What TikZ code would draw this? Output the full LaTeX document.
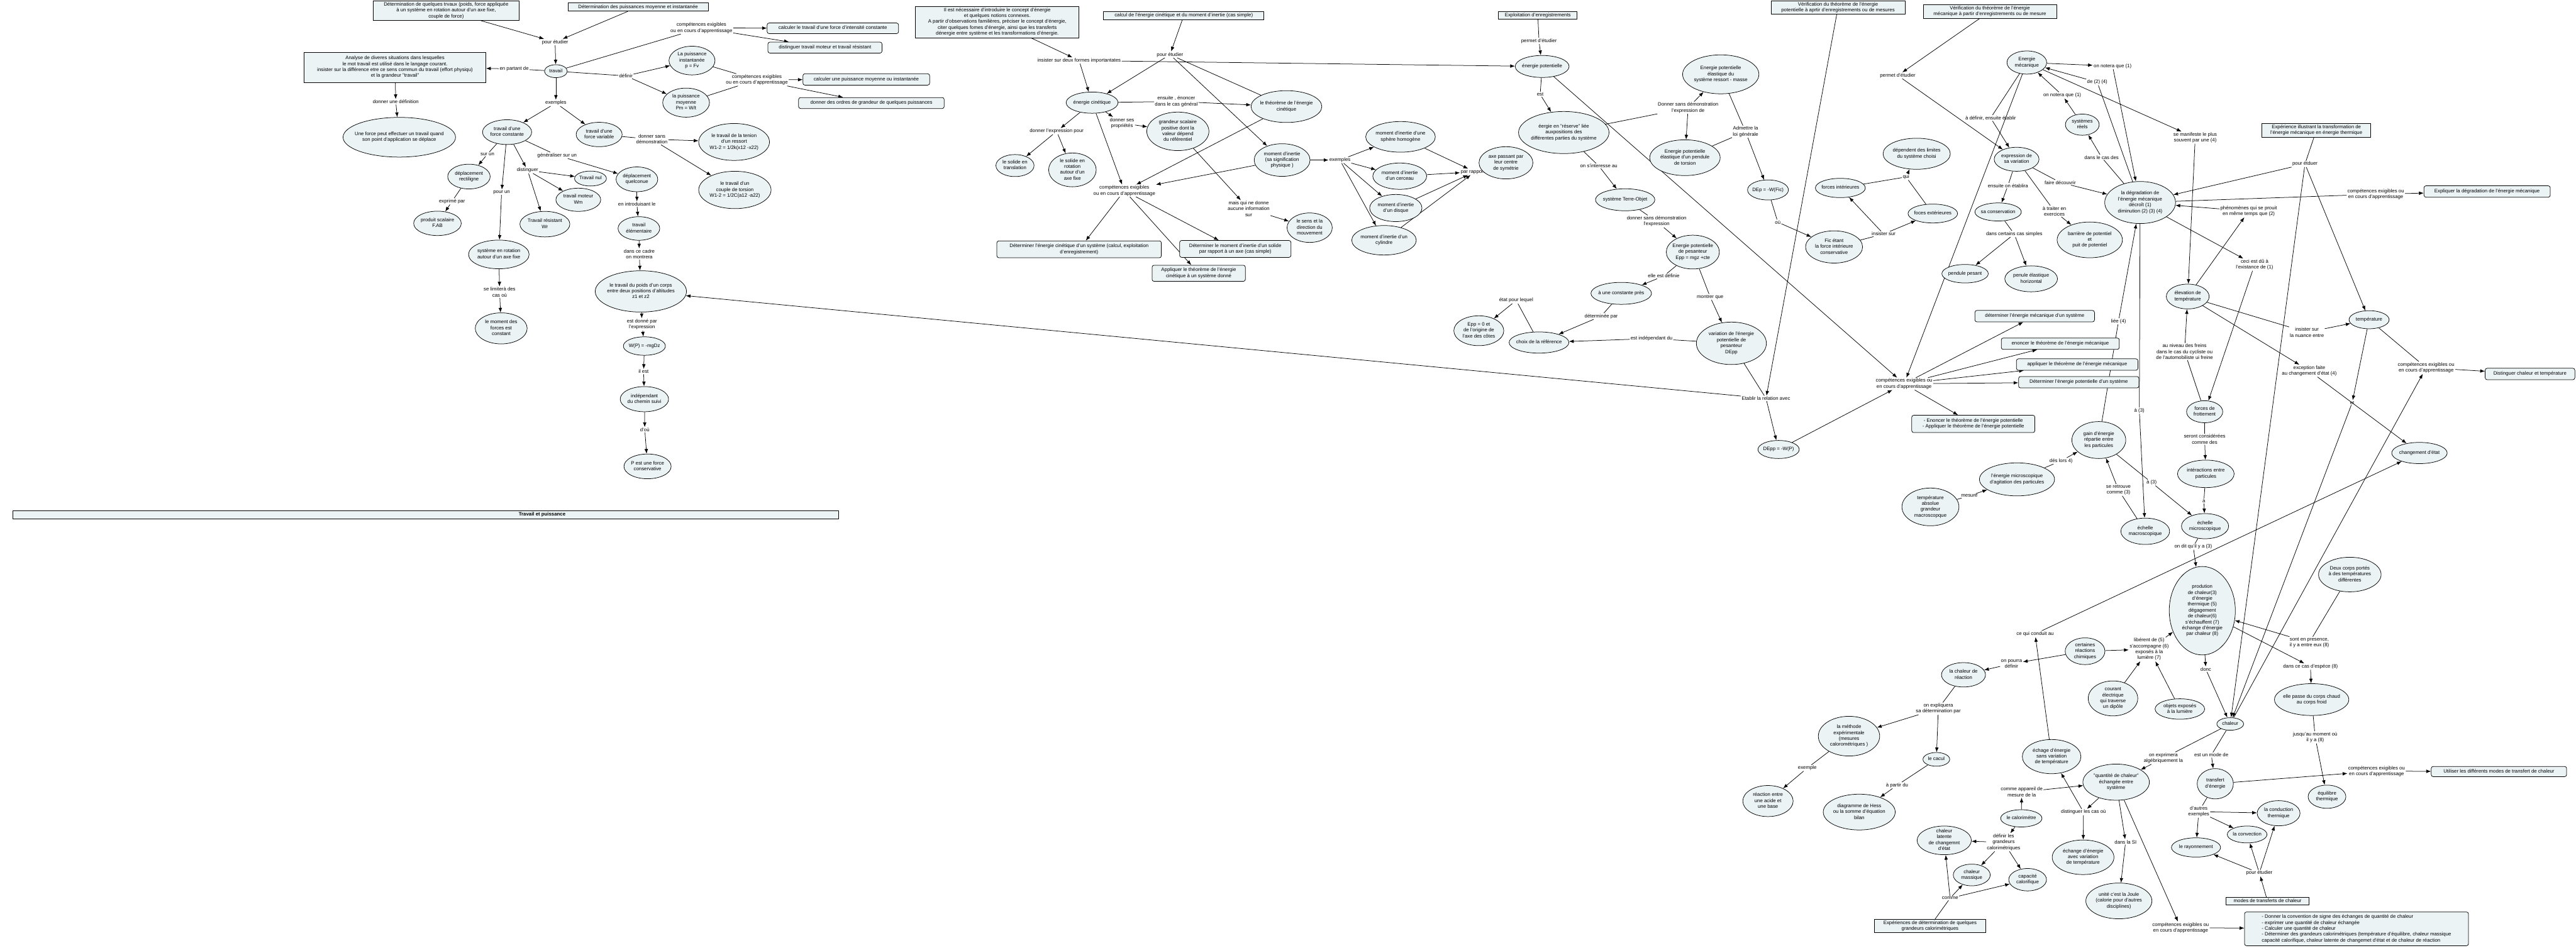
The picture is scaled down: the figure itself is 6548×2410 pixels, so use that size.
\documentclass[tikz,border=0pt]{standalone}
\usepackage{fontspec}
\setmainfont{Liberation Sans}
\usetikzlibrary{shapes.geometric,arrows.meta,backgrounds}
\definecolor{nf}{RGB}{235,243,245}
\newcommand{\ct}[1]{\smash{\makebox[0pt]{\raisebox{-3pt}{\begin{tabular}{@{}c@{}}#1\end{tabular}}}}}
\newcommand{\ctl}[1]{\smash{\makebox[0pt]{\raisebox{-3pt}{\begin{tabular}{@{}l@{}}#1\end{tabular}}}}}
\newcommand{\mkE}[6]{\node[ell,minimum width=#4,minimum height=#5] (#1) at (#2,#3) {\ct{#6}};}
\newcommand{\mkS}[6]{\node[sbox,minimum width=#4,minimum height=#5] (#1) at (#2,#3) {\ct{#6}};}
\newcommand{\mkR}[6]{\node[rbox,minimum width=#4,minimum height=#5] (#1) at (#2,#3) {\ct{#6}};}
\newcommand{\mkL}[4]{\node[lab] (#1) at (#2,#3) {#4};}
\newcommand{\myA}[2]{\draw[arw] (#1) -- (#2);}
\newcommand{\myL}[2]{\draw[pln] (#1) -- (#2);}
\tikzset{
 every node/.style={font=\fontsize{12.5}{15}\selectfont},
 ell/.style={ellipse,draw,fill=nf,line width=1.2pt,inner sep=0pt},
 sbox/.style={rectangle,draw,fill=nf,line width=1.2pt,inner sep=0pt},
 rbox/.style={rectangle,rounded corners=5pt,draw,fill=nf,line width=1.2pt,inner sep=0pt},
 lab/.style={align=center,inner sep=2pt},
 arw/.style={line width=1.2pt,-{Latex[length=12pt,width=9pt]}},
 pln/.style={line width=1.2pt}
}
\begin{document}
\begin{tikzpicture}[x=1pt,y=-1pt]
\useasboundingbox (0,0) rectangle (6548,2410);
% ---------------- Travail et puissance
\mkS{bDetTrav}{1134}{27}{370}{50}{Détermination de quelques trvaux (poids, force appliquée\\à un système en rotation autour d'un axe fixe,\\couple de force)}
\mkS{bDetPuis}{1622}{18}{356}{21}{Détermination des puissances moyenne et instantanée}
\mkL{lPE1}{1411}{107}{pour étudier}
\mkE{eTravail}{1413}{181}{58}{33}{travail}
\mkL{lComp1}{1783}{71}{compétences exigibles\\ou en cours d'apprentissage}
\mkR{rCalcTrav}{2117}{72}{334}{27}{calculer le travail d'une force d'intensité constante}
\mkR{rDistTrav}{2097}{121}{290}{28}{distinguer travail moteur et travail résistant}
\mkL{lPartant}{1307}{175}{en partant de}
\mkS{bAnalyse}{1004}{171}{462}{77}{Analyse de diveres situations dans lesquelles\\le mot travail est utilisé dans le langage courant.\\insister sur la différence etre ce sens commun du travail (effort physiqu)\\et la grandeur "travail"}
\mkL{lDonDef}{1006}{259}{donner une définition}
\mkE{eForce}{1015}{349}{286}{101}{Une force peut effectuer un travail quand\\son point d'application se déplace}
\mkL{lDefinir}{1591}{193}{définir}
\mkE{ePInst}{1759}{154}{117}{73}{La puissance\\instantanée\\p = Fv}
\mkE{ePMoy}{1744}{261}{119}{74}{la puissance\\moyenne\\Pm = W/t}
\mkL{lComp2}{1924}{203}{compétences exigibles\\ou en cours d'apprentissage}
\mkR{rCalcP}{2202}{202}{322}{29}{calculer une puissance moyenne ou instantanée}
\mkR{rOrdres}{2215}{262}{370}{28}{donner des ordres de grandeur de quelques puissances}
\mkL{lEx1}{1413}{262}{exemples}
\mkE{eFConst}{1289}{336}{125}{63}{travail d'une\\force constante}
\mkE{eFVar}{1523}{342}{117}{62}{travail d'une\\force variable}
\mkL{lDonSans}{1657}{354}{donner sans\\démonstration}
\mkE{eRessort}{1866}{361}{180}{94}{le travail de la tenion\\d'un ressort\\W1-2 = 1/2k(x12 -x22)}
\mkE{eCouple}{1868}{483}{184}{95}{le travail d'un\\couple de torsion\\W1-2 = 1/2C(a12 -a22)}
\mkL{lSurUn}{1239}{392}{sur un}
\mkE{eRect}{1192}{449}{108}{63}{déplacement\\rectiligne}
\mkL{lExprime}{1149}{512}{exprimé par}
\mkE{eProduit}{1112}{568}{121}{62}{produit scalaire\\F.AB}
\mkL{lPourUn}{1275}{489}{pour un}
\mkE{eRotation}{1268}{647}{154}{73}{système en rotation\\autour d'un axe fixe}
\mkL{lLimite}{1270}{743}{se limiterà des\\cas où}
\mkE{eMoment}{1274}{835}{132}{79}{le moment des\\forces est\\constant}
\mkL{lDist}{1341}{433}{distinguer}
\mkE{eNul}{1501}{454}{81}{38}{Travail nul}
\mkE{eMoteur}{1470}{508}{114}{59}{travail moteur\\Wm}
\mkE{eResist}{1385}{570}{127}{65}{Travail résistant\\Wr}
\mkL{lGen}{1416}{395}{généraliser sur un}
\mkE{eQuel}{1619}{456}{106}{63}{déplacement\\quelconue}
\mkL{lIntro}{1619}{519}{en introduisant le}
\mkE{eElem}{1624}{581}{106}{60}{travail\\élémentaire}
\mkL{lCadre}{1625}{646}{dans ce cadre\\on montrera}
\mkE{ePoids}{1629}{741}{232}{105}{le travail du poids d'un corps\\entre deux positions d'altitudes\\z1 et z2}
\mkL{lDonne}{1632}{825}{est donné par\\l'expression}
\mkE{eWP}{1638}{880}{107}{47}{W(P) = -mgDz}
\mkL{lIlEst}{1636}{945}{il est}
\mkE{eIndep}{1638}{1015}{123}{64}{indépendant\\du chemin suivi}
\mkL{lDou}{1639}{1093}{d'où}
\mkE{eConserv}{1646}{1186}{120}{63}{P est une force\\conservative}
\node[sbox,minimum width=2099,minimum height=21] (bar) at (1082.5,1308.5) {};
\node[lab] (barT) at (1378,1308) {\textbf{Travail et puissance}};
% ---------------- energie cinetique
\mkS{bIntro}{2535}{56}{416}{80}{Il est nécessaire d'introduire le concept d'énergie\\et quelques notions connexes.\\A partir d'observations familières, préciser  le concept d'énergie,\\citer quelques fomes d'énergie, ainsi que les transferts\\dénergie entre système et les transformations d'énergie.}
\mkL{lInsister}{2743}{154}{insister sur deux formes importantates}
\mkS{bCalcEc}{3009}{40}{408}{21}{calcul de l'énergie cinétique et du moment d'inertie (cas simple)}
\mkL{lPE2}{2974}{139}{pour étudier}
\mkE{eEc}{2776}{261}{132}{54}{énergie cinétique}
\mkL{lEnsuite}{2990}{258}{ensuite , énoncer\\dans le cas général}
\mkE{eTheo}{3270}{271}{180}{81}{le théorème de l'énergie\\cinétique}
\mkL{lProp}{2852}{313}{donner ses\\propriétés}
\mkE{eGrand}{2994}{334}{158}{98}{grandeur scalaire\\positive dont la\\valeur dépend\\du référentiel}
\mkL{lMais}{3174}{531}{mais qui ne donne\\aucune information\\sur}
\mkE{eSens}{3329}{579}{115}{75}{le sens et la\\direction du\\mouvement}
\mkL{lExpr}{2686}{334}{donner l'expression pour}
\mkE{eTransl}{2580}{421}{97}{56}{le solide en\\translation}
\mkE{eRotSol}{2726}{432}{121}{86}{le solide en\\rotation\\autour d'un\\axe fixe}
\mkL{lComp3}{2858}{485}{compétences exigibles\\ou en cours d'apprentissage}
\mkR{rDetEc}{2743}{634}{418}{43}{Déterminer l'énergie cinétique d'un système (calcul, exploitation\\d'enregistrement)}
\mkR{rApplTec}{3047}{695}{237}{41}{Appliquer le théorème de l'énergie\\cinétique à un système donné}
\mkR{rDetMom}{3140}{633}{283}{43}{Déterminer le moment d'inertie d'un solide\\par rapport à un axe (cas simple)}
\mkE{eMomI}{3259}{407}{142}{83}{moment d'inertie\\(sa signification\\physique )}
\mkL{lEx2}{3406}{407}{exemples}
\mkE{eSphere}{3560}{348}{177}{78}{moment d'inertie d'une\\sphère homogène}
\mkE{eCerceau}{3558}{448}{137}{67}{moment d'inertie\\d'un cerceau}
\mkE{eDisque}{3548}{529}{133}{69}{moment d'inertie\\d'un disque}
\mkE{eCyl}{3518}{611}{164}{75}{moment d'inertie d'un\\cylindre}
\mkL{lRapport}{3749}{437}{par rapport à}
\mkE{eAxe}{3828}{414}{137}{82}{axe passant par\\leur centre\\de symétrie}
% ---------------- energie potentielle
\mkS{bExploit}{3909}{39}{200}{20}{Exploitation d'enregistrements}
\mkL{lPermet1}{3912}{104}{permet d'étudier}
\mkE{eEp}{3920}{169}{137}{56}{énergie potentielle}
\mkL{lEst}{3915}{240}{est}
\mkE{eReserve}{3975}{337}{230}{107}{éergie en "réserve" liée\\auxpositions des\\différentes parties du système}
\mkL{lDonSans2}{4291}{274}{Donner sans démonstration\\l'expression de}
\mkE{eRessortM}{4374}{189}{194}{99}{Energie potentielle\\élastique du\\système ressort - masse}
\mkE{eTorsion}{4283}{401}{179}{91}{Energie potentielle\\élastique d'un pendule\\de torsion}
\mkL{lAdmettre}{4437}{335}{Admettre la\\loi générale}
\mkE{eDEp}{4494}{483}{104}{51}{DEp = -W(Fic)}
\mkL{lOu}{4519}{565}{où}
\mkE{eFic}{4662}{628}{145}{82}{Fic étant\\la force intérieure\\conservative}
\mkL{lInsSur}{4788}{595}{insister sur}
\mkE{eFint}{4678}{478}{127}{49}{forces intérieures}
\mkE{eFext}{4913}{543}{126}{48}{foces extérieures}
\mkL{lQui}{4845}{450}{qui}
\mkE{eDepend}{4872}{391}{171}{79}{dépendent des limites\\du système choisi}
\mkS{bVerEp}{4672}{19}{340}{35}{Vérification du théorème de l'énergie\\potentielle à aprtir d'enregistrements ou de mesures}
\mkE{eTerre}{4131}{508}{151}{56}{système Terre-Objet}
\mkL{lSint}{4064}{422}{on s'interesse au}
\mkL{lDonSans3}{4211}{563}{donner sans démonstration\\l'expression}
\mkE{eEpp}{4303}{641}{135}{86}{Energie potentielle\\de pesanteur\\Epp = mgz +cte}
\mkL{lDefinie}{4229}{702}{elle est définie}
\mkE{eCste}{4121}{746}{154}{56}{à une constante près}
\mkL{lDeterminee}{4070}{804}{déterminée par}
\mkE{eChoix}{3912}{871}{152}{54}{choix de la référence}
\mkL{lEtat}{3854}{764}{état pour lequel}
\mkE{eEpp0}{3759}{841}{127}{76}{Epp = 0 et\\de l'origine de\\l'axe des côtes}
\mkL{lMontrer}{4347}{755}{montrer que}
\mkE{eVar}{4401}{873}{178}{108}{variation de l'énergie\\potentielle de\\pesanteur\\DEpp}
\mkL{lIndep}{4198}{861}{est indépendant du}
\mkL{lEtablir}{4489}{1013}{Etablir la relation avec}
\mkE{eDEpp}{4521}{1143}{105}{46}{DEpp = -W(P)}
\mkL{lComp4}{4840}{976}{compétences exigibles ou\\en cours d'apprentissage}
\mkR{rDetEm}{5172}{804}{304}{29}{déterminer l'énergie mécanique d'un système}
\mkR{rEnEm}{5237}{874}{300}{29}{enoncer le théorème de l'énergie mécanique}
\mkR{rApEm}{5280}{927}{309}{29}{appliquer le théorème de l'énergie mécanique}
\mkR{rDetEp}{5284}{972}{306}{29}{Déterminer l'énergie potentielle d'un système}
\mkR{rEnEp}{5016}{1078}{313}{44}{- Enoncer le théorème de l'énergie potentielle\\- Appliquer le théorème de l'énergie potentielle}
% ---------------- energie mecanique
\mkS{bVerEm}{5058}{29}{339}{35}{Vérification du théorème de l'énergie\\mécanique à partir d'enregistrements ou de mesure}
\mkL{lPermet2}{4824}{192}{permet d'étudier}
\mkE{eEm}{5152}{159}{101}{59}{Energie\\mécanique}
\mkL{lNot1}{5370}{168}{on notera que (1)}
\mkL{lDe24}{5331}{209}{de (2) (4)}
\mkL{lNot2}{5242}{242}{on notera que (1)}
\mkE{eSysReel}{5293}{317}{86}{54}{systèmes\\réels}
\mkL{lCasDes}{5342}{400}{dans le cas des}
\mkL{lManif}{5580}{350}{se manifeste le plus\\souvent par une (4)}
\mkL{lADef}{5060}{300}{à définir, ensuite établir}
\mkE{eExprVar}{5126}{405}{114}{61}{expression de\\sa variation}
\mkL{lFaire}{5237}{464}{faire découvrir}
\mkL{lEnsEt}{5104}{472}{ensuite on établira}
\mkE{eSaCons}{5079}{539}{118}{46}{sa conservation}
\mkL{lCertains}{5120}{595}{dans certains cas simples}
\mkE{ePendPes}{4995}{696}{118}{47}{pendule pesant}
\mkE{ePendEl}{5163}{709}{134}{66}{penule élastique\\horizontal}
\mkL{lTraiter}{5222}{537}{à traiter en\\exercices}
\mkE{eBarriere}{5312}{610}{166}{91}{barrière de potentiel\\et\\puit de potentiel}
\mkE{eDegr}{5440}{515}{180}{107}{la dégradation de\\l'énergie mécanique\\décroît (1)\\diminution (2) (3) (4)}
\mkS{bExpTherm}{5888}{331}{277}{35}{Expérience illustrant la transformation de\\l'énergie mécanique en énergie thermique}
\mkL{lPourEt}{5859}{417}{pour étduer}
\mkL{lComp5}{6039}{494}{compétences exigibles ou\\en cours d'apprentissage}
\mkR{rExpliquer}{6322}{487}{321}{29}{Expliquer la dégradation de l'énergie mécanique}
\mkL{lPhen}{5716}{537}{phénomènes qui se prouit\\en même temps que (2)}
\mkL{lCeci}{5731}{673}{ceci est dû  à\\l'existance de (1)}
\mkE{eElev}{5561}{754}{109}{63}{élevation de\\température}
\mkE{eTemp}{6022}{813}{102}{46}{température}
\mkL{lNuance}{5864}{845}{insister sur\\la nuance  entre}
\mkL{lExcep}{5870}{943}{exception faite\\au changement d'état (4)}
\mkE{eChgt}{6150}{1152}{141}{54}{changement d'état}
\mkL{lComp6}{6167}{935}{compétences exigibles ou\\en cours d'apprentissage}
\mkR{rDistCT}{6431}{951}{228}{29}{Distinguer chaleur et température}
\mkL{lEt}{5979}{1024}{et}
\mkE{eFrott}{5604}{1047}{92}{56}{forces de\\frottement}
\mkL{lFreins}{5553}{894}{au niveau des freins\\dans le cas du cycliste ou\\de l'automobiliste ui freine}
\mkL{lConsid}{5604}{1117}{seront considérées\\comme des}
\mkE{eInter}{5607}{1205}{144}{70}{intéractions entre\\particules}
\mkL{lA}{5602}{1274}{à}
\mkE{eMicro}{5605}{1338}{120}{64}{échelle\\microscopique}
\mkL{lDit}{5575}{1390}{on dit qu'il y a (3)}
\mkE{eDeux}{5973}{1461}{159}{88}{Deux corps portés\\à des températures\\différentes}
\mkE{eProd}{5598}{1553}{168}{225}{prodution\\de chaleur(3)\\d'énergie\\thermique (5)\\dégagement\\de chaleur(6)\\s'échauffent (7)\\échange d'énergie\\par chaleur (8)}
\mkL{lLiberent}{5463}{1651}{libérent de (5)\\s'accompagne (6)\\exposés à la\\lumière (7)}
\mkE{eCourant}{5371}{1776}{126}{89}{courant\\électrique\\qui traverse\\un dipôle}
\mkE{eObjets}{5541}{1803}{126}{52}{objets exposés\\à la lumière}
\mkL{lDonc}{5607}{1702}{donc}
\mkE{eChaleur}{5669}{1841}{68}{32}{chaleur}
\mkL{lPresence}{5870}{1634}{sont en presence,\\il y a entre eux (8)}
\mkL{lEspece}{5873}{1695}{dans ce cas d'espéce (8)}
\mkE{ePasse}{5876}{1779}{189}{81}{elle passe du corps chaud\\au corps froid}
\mkL{lJusqu}{5885}{1875}{jusqu'au moment où\\il y a (8)}
\mkE{eEquil}{5915}{2026}{96}{59}{équilibre\\thermique}
\mkL{lExprimera}{5499}{1928}{on exprimera\\algébriquement  la}
\mkL{lMode}{5621}{1920}{est un mode de}
\mkE{eTransf}{5631}{1993}{92}{77}{transfert\\d'énergie}
\mkL{lComp7}{6041}{1961}{compétences exigibles ou\\en cours d'apprentissage}
\mkR{rUtiliser}{6352}{1962}{344}{26}{Utiliser les différents modes de transfert de chaleur}
\mkL{lAutres}{5589}{2064}{d'autres\\exemples}
\mkE{eConduct}{5792}{2068}{109}{64}{la conduction\\thermique}
\mkE{eConvec}{5712}{2122}{101}{43}{la convection}
\mkE{eRayon}{5582}{2155}{125}{49}{le rayonnement}
\mkL{lPE3}{5743}{2220}{pour étudier}
\mkS{bModes}{5764}{2292}{211}{19}{modes de transferts de chaleur}
\mkE{eQuant}{5379}{1989}{169}{92}{"quantité de chaleur"\\échangée entre\\système}
\mkL{lSI}{5403}{2141}{dans la SI}
\mkE{eUnite}{5386}{2291}{168}{91}{unité c'est la Joule\\(calorie pour d'autres\\disciplines)}
\mkL{lComp8}{5543}{2359}{compétences exigibles  ou\\en cours d'apprentissage}
\node[rbox,minimum width=569,minimum height=86] (rDonner) at (5990,2362) {\ctl{- Donner la convention de signe des échanges de quantité de chaleur\\- exprimer une quantité de chaleur échangée\\- Calculer une quantité de chaleur\\- Déterminer des grandeurs calorimétriques (température d'équilibre, chaleur massique\\capacité calorifique, chaleur latente de changemet d'état et de chaleur de réaction}};
\mkE{eGain}{5335}{1119}{137}{94}{gain d'énergie\\répartie entre\\les particules}
\mkL{lLiee}{5385}{817}{liée (4)}
\mkL{lA3a}{5438}{1044}{à (3)}
\mkL{lDesLors}{5239}{1172}{dés lors 4)}
\mkE{eAgit}{5127}{1219}{191}{84}{l'énergie microscopique\\d'agitation des particules}
\mkL{lMesure}{5006}{1261}{mesure}
\mkE{eTAbs}{4907}{1289}{145}{96}{température\\absolue\\grandeur\\macroscopque}
\mkL{lRetrouve}{5385}{1246}{se retrouve\\comme (3)}
\mkE{eMacro}{5453}{1351}{124}{67}{échelle\\macroscopique}
\mkL{lA3b}{5469}{1227}{à (3)}
% ---------------- calorimetrie
\mkL{lConduit}{5173}{1612}{ce qui conduit au}
\mkE{eCertaines}{5300}{1656}{101}{68}{certaines\\réactions\\chimiques}
\mkL{lPourra}{5113}{1688}{on pourra\\définir}
\mkE{eChalReac}{4991}{1716}{112}{62}{la chaleur de\\réaction}
\mkL{lExpliquera}{4927}{1802}{on expliquera\\sa détermination par}
\mkE{eMethode}{4700}{1872}{156}{101}{la méthode\\expérimentale\\(mesures\\calorométriques )}
\mkL{lExemple}{4594}{1953}{exemple}
\mkE{eAcide}{4494}{2037}{128}{79}{réaction entre\\une acide et\\une base}
\mkE{eCacul}{4922}{1931}{68}{35}{le cacul}
\mkL{lAPartir}{4822}{1997}{à partir du}
\mkE{eHess}{4726}{2065}{183}{91}{diagramme de Hess\\ou la somme d'équation\\bilan}
\mkE{eSansVar}{5215}{1924}{149}{87}{échage d'énergie\\sans variation\\de température}
\mkL{lAppareil}{5139}{2014}{comme appareil de\\mesure de la}
\mkE{eCalo}{5138}{2081}{105}{44}{le calorimétre}
\mkL{lDistCas}{5296}{2065}{distinguer les cas où}
\mkE{eAvecVar}{5295}{2180}{157}{88}{échange d'énergie\\avec variation\\de température}
\mkL{lDefGr}{5093}{2142}{définir les\\grandeurs\\calorimétriques}
\mkE{eLatente}{4942}{2137}{138}{73}{chaleur\\latente\\de changemnt\\d'état}
\mkE{eMassique}{5012}{2225}{94}{55}{chaleur\\massique}
\mkE{eCapa}{5154}{2237}{96}{57}{capacité\\calorifique}
\mkL{lComme}{4957}{2284}{comme}
\mkS{bExpCalo}{4906}{2355}{282}{34}{Expériences de détermination de quelques\\grandeurs calorimétriques}
% ================= connectors
\begin{pgfonlayer}{background}
\fill[white] (0,0) rectangle (6548,2410);
\myA{bDetTrav}{lPE1} \myA{bDetPuis}{lPE1} \myA{lPE1}{eTravail}
\myL{eTravail}{lComp1} \myA{lComp1}{rCalcTrav} \myA{lComp1}{rDistTrav}
\myL{eTravail}{lPartant} \myA{lPartant}{bAnalyse}
\myA{bAnalyse}{lDonDef} \myA{lDonDef}{eForce}
\myL{eTravail}{lDefinir} \myA{lDefinir}{ePInst} \myA{lDefinir}{ePMoy}
\myL{ePInst}{lComp2} \myL{ePMoy}{lComp2} \myA{lComp2}{rCalcP} \myA{lComp2}{rOrdres}
\myA{eTravail}{lEx1} \myA{lEx1}{eFConst} \myA{lEx1}{eFVar}
\myL{eFVar}{lDonSans} \myA{lDonSans}{eRessort} \myA{lDonSans}{eCouple}
\myL{eFConst}{lSurUn} \myA{lSurUn}{eRect}
\myL{eRect}{lExprime} \myA{lExprime}{eProduit}
\myA{eFConst}{lPourUn} \myA{lPourUn}{eRotation}
\myA{eRotation}{lLimite} \myA{lLimite}{eMoment}
\myA{eFConst}{lDist} \myA{lDist}{eNul} \myA{lDist}{eMoteur} \myA{lDist}{eResist}
\myL{eFConst}{lGen} \myA{lGen}{eQuel}
\myA{eQuel}{lIntro} \myA{lIntro}{eElem}
\myA{eElem}{lCadre} \myA{lCadre}{ePoids}
\myA{ePoids}{lDonne} \myA{lDonne}{eWP}
\myA{eWP}{lIlEst} \myA{lIlEst}{eIndep}
\myA{eIndep}{lDou} \myA{lDou}{eConserv}
\myA{lEtablir}{ePoids}
\myA{bIntro}{lInsister} \myA{lInsister}{eEc} \myA{lInsister}{eEp}
\myA{bCalcEc}{lPE2} \myA{lPE2}{eEc} \myA{lPE2}{eMomI} \myL{lPE2}{eTheo}
\myL{eEc}{lEnsuite} \myA{lEnsuite}{eTheo}
\myA{eEc}{lProp} \myA{lProp}{eGrand}
\myA{eGrand}{lMais} \myA{lMais}{eSens}
\myA{eEc}{lExpr} \myA{lExpr}{eTransl} \myA{lExpr}{eRotSol}
\myA{eEc}{lComp3} \myA{eTheo}{lComp3} \myA{eMomI}{lComp3}
\myA{lComp3}{rDetEc} \myA{lComp3}{rApplTec} \myA{lComp3}{rDetMom}
\myA{eMomI}{lEx2} \myA{lEx2}{eSphere} \myA{lEx2}{eCerceau} \myA{lEx2}{eDisque} \myA{lEx2}{eCyl}
\myA{eSphere}{lRapport} \myA{eCerceau}{lRapport} \myA{eDisque}{lRapport} \myA{eCyl}{lRapport}
\myL{bExploit}{lPermet1} \myA{lPermet1}{eEp}
\myL{eEp}{lEst} \myA{lEst}{eReserve}
\myA{eEp}{lComp4}
\myL{eReserve}{lDonSans2} \myA{lDonSans2}{eRessortM} \myA{lDonSans2}{eTorsion}
\myL{eRessortM}{lAdmettre} \myL{eTorsion}{lAdmettre} \myA{lAdmettre}{eDEp}
\myL{eDEp}{lOu} \myA{lOu}{eFic}
\myL{eFic}{lInsSur} \myA{lInsSur}{eFint} \myA{lInsSur}{eFext}
\myL{eFint}{lQui} \myL{eFext}{lQui} \myA{lQui}{eDepend}
\myL{eReserve}{lSint} \myA{lSint}{eTerre}
\myL{eTerre}{lDonSans3} \myA{lDonSans3}{eEpp}
\myL{eEpp}{lDefinie} \myA{lDefinie}{eCste}
\myL{eCste}{lDeterminee} \myA{lDeterminee}{eChoix}
\myL{eChoix}{lEtat} \myA{lEtat}{eEpp0}
\myL{eEpp}{lMontrer} \myA{lMontrer}{eVar}
\myL{eVar}{lIndep} \myA{lIndep}{eChoix}
\myL{eVar}{lEtablir} \myA{bVerEp}{lEtablir} \myA{lEtablir}{eDEpp}
\myA{eDEpp}{lComp4}
\myA{lComp4}{rDetEm} \myA{lComp4}{rEnEm} \myA{lComp4}{rApEm} \myA{lComp4}{rDetEp} \myA{lComp4}{rEnEp}
\myA{bVerEm}{lPermet2} \myA{lPermet2}{eExprVar}
\myA{eEm}{lNot1} \myA{lNot1}{eDegr}
\myL{eDegr}{lDe24} \myA{lDe24}{eEm}
\myA{eSysReel}{lNot2} \myA{lNot2}{eEm}
\myL{eDegr}{lCasDes} \myA{lCasDes}{eSysReel}
\myA{eEm}{lManif} \myA{lManif}{eElev}
\myL{eEm}{lADef} \myA{lADef}{eExprVar}
\myA{eEm}{lComp4}
\myL{eExprVar}{lFaire} \myA{lFaire}{eDegr}
\myL{eExprVar}{lEnsEt} \myA{lEnsEt}{eSaCons}
\myL{eSaCons}{lCertains} \myA{lCertains}{ePendPes} \myA{lCertains}{ePendEl}
\myL{eExprVar}{lTraiter} \myA{lTraiter}{eBarriere}
\myL{bExpTherm}{lPourEt} \myA{lPourEt}{eDegr} \myA{lPourEt}{eTemp} \myA{lPourEt}{eChaleur}
\myL{eDegr}{lComp5} \myA{lComp5}{rExpliquer}
\myA{eElev}{lPhen} \myA{lPhen}{eDegr}
\myA{eDegr}{lCeci} \myA{lCeci}{eFrott}
\myL{eDegr}{lA3a} \myA{lA3a}{eMacro}
\myL{eGain}{lLiee} \myA{lLiee}{eDegr}
\myL{eElev}{lNuance} \myA{lNuance}{eTemp}
\myA{eElev}{lExcep} \myA{lExcep}{eChgt}
\myL{eTemp}{lComp6} \myA{lComp6}{rDistCT}
\myA{eChaleur}{lComp6}
\myA{eTemp}{lEt} \myA{lEt}{eChaleur}
\myL{eFrott}{lFreins} \myA{lFreins}{eElev}
\myL{eFrott}{lConsid} \myA{lConsid}{eInter}
\myL{eInter}{lA} \myA{lA}{eMicro}
\myL{eMicro}{lDit} \myA{lDit}{eProd}
\myL{eGain}{lA3b} \myA{lA3b}{eMicro}
\myL{eAgit}{lDesLors} \myA{lDesLors}{eGain}
\myL{eTAbs}{lMesure} \myA{lMesure}{eAgit}
\myL{eMacro}{lRetrouve} \myA{lRetrouve}{eGain}
\myA{eSansVar}{lConduit} \myA{lConduit}{eChgt}
\myL{eDeux}{lPresence} \myA{lPresence}{eProd}
\myA{eProd}{lEspece} \myA{lEspece}{ePasse}
\myL{ePasse}{lJusqu} \myA{lJusqu}{eEquil}
\myA{eCertaines}{lLiberent} \myA{eCourant}{lLiberent} \myA{eObjets}{lLiberent} \myA{lLiberent}{eProd}
\myA{eProd}{lDonc} \myA{lDonc}{eChaleur}
\myL{eChaleur}{lExprimera} \myA{lExprimera}{eQuant}
\myL{eChaleur}{lMode} \myA{lMode}{eTransf}
\myA{eTransf}{lComp7} \myA{lComp7}{rUtiliser}
\myL{eTransf}{lAutres} \myA{lAutres}{eConduct} \myA{lAutres}{eConvec} \myA{lAutres}{eRayon}
\myA{bModes}{lPE3} \myA{lPE3}{eRayon} \myA{lPE3}{eConvec} \myA{lPE3}{eConduct}
\myA{eQuant}{lSI} \myA{lSI}{eUnite}
\myA{eQuant}{lComp8} \myA{lComp8}{rDonner}
\myA{eQuant}{lDistCas} \myA{lDistCas}{eSansVar} \myA{lDistCas}{eAvecVar}
\myA{eCalo}{lAppareil} \myA{lAppareil}{eQuant}
\myA{eCalo}{lDefGr} \myA{lDefGr}{eLatente} \myA{lDefGr}{eMassique} \myA{lDefGr}{eCapa}
\myL{bExpCalo}{lComme} \myA{lComme}{eLatente} \myA{lComme}{eMassique} \myA{lComme}{eCapa}
\myA{eCertaines}{lPourra} \myA{lPourra}{eChalReac}
\myL{eChalReac}{lExpliquera} \myA{lExpliquera}{eMethode} \myA{lExpliquera}{eCacul}
\myL{eMethode}{lExemple} \myA{lExemple}{eAcide}
\myL{eCacul}{lAPartir} \myA{lAPartir}{eHess}
\end{pgfonlayer}
\end{tikzpicture}
\end{document}
